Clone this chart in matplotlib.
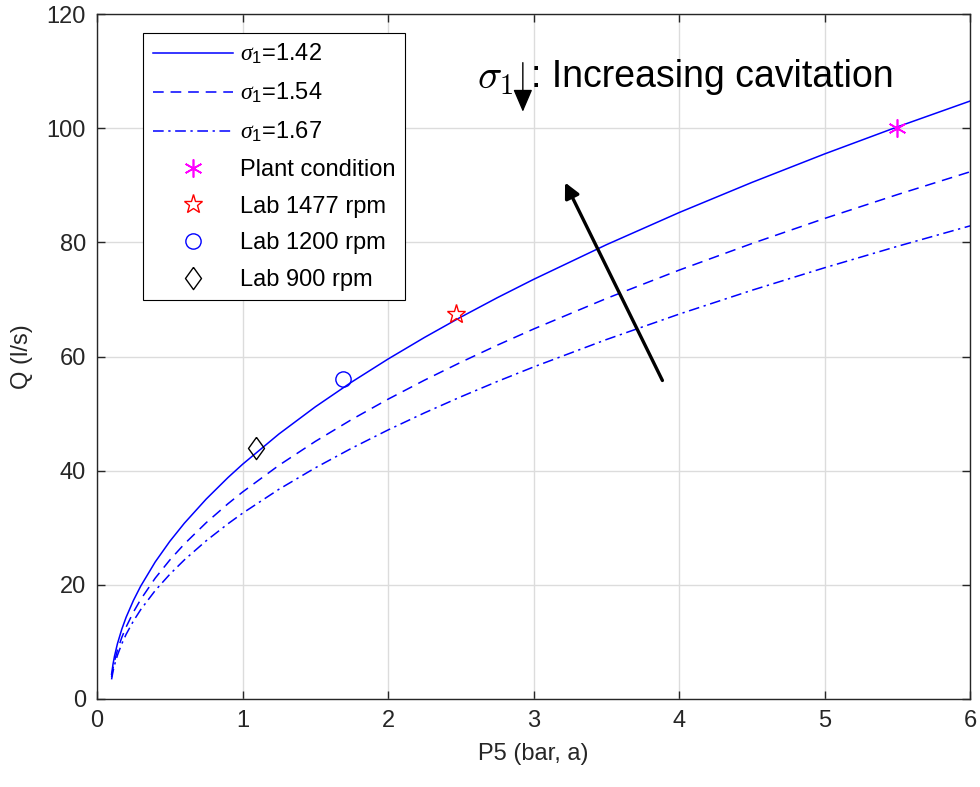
import numpy as np
import matplotlib
matplotlib.use('Agg')
import matplotlib.pyplot as plt

plt.rcParams['font.family'] = ['Liberation Sans', 'DejaVu Sans']
plt.rcParams['mathtext.fontset'] = 'custom'
plt.rcParams['mathtext.rm'] = 'Liberation Sans'
plt.rcParams['mathtext.it'] = 'Liberation Serif:italic'

# curves
p5 = [0.10, 0.11, 0.12, 0.14, 0.17, 0.20, 0.25, 0.30, 0.40, 0.50, 0.60, 0.75, 0.90,
      1.00, 1.25, 1.50, 1.75, 2.00, 2.25, 2.50, 2.75, 3.00, 3.50, 4.00, 4.50, 5.00,
      5.50, 6.00]
q_142 = [4.31, 6.09, 7.47, 9.64, 12.19, 14.30, 17.24, 19.75, 24.00, 27.60, 30.78, 35.01,
         38.79, 41.11, 46.42, 51.18, 55.53, 59.56, 63.34, 66.91, 70.30, 73.52, 79.59,
         85.23, 90.51, 95.51, 100.25, 104.78]
q_154 = [3.80, 5.37, 6.58, 8.50, 10.75, 12.60, 15.20, 17.42, 21.16, 24.33, 27.14, 30.87,
         34.20, 36.25, 40.93, 45.12, 48.96, 52.52, 55.85, 58.99, 61.98, 64.82, 70.17,
         75.14, 79.80, 84.20, 88.38, 92.38]
q_167 = [3.41, 4.82, 5.91, 7.62, 9.64, 11.31, 13.64, 15.63, 18.99, 21.83, 24.35, 27.70,
         30.69, 32.53, 36.73, 40.49, 43.93, 47.13, 50.12, 52.94, 55.62, 58.17, 62.97,
         67.43, 71.61, 75.56, 79.31, 82.90]

plant = (5.5, 100.0)
lab_1477 = (2.47, 67.5)
lab_1200 = (1.69, 56.0)
lab_900 = (1.09, 44.0)

fig = plt.figure(figsize=(9.8, 7.87), dpi=100)
ax = fig.add_axes([0.099, 0.112, 0.891, 0.870])

blue = '#0000FF'
ax.plot(p5, q_142, color=blue, lw=1.1, ls='-', label=r'$\sigma_1$=1.42')
ax.plot(p5, q_154, color=blue, lw=1.1, ls=(0, (7, 4.5)), label=r'$\sigma_1$=1.54')
ax.plot(p5, q_167, color=blue, lw=1.1, ls=(0, (7, 3, 1.5, 3)), label=r'$\sigma_1$=1.67')

diamond = [(0, 1), (0.72, 0), (0, -1), (-0.72, 0), (0, 1)]
ax.plot(*plant, ls='none', marker=(6, 2, 0), ms=13, mec='#FF00FF', mew=1.2, label='Plant condition')
ax.plot(*lab_1477, ls='none', marker='*', ms=14, mfc='none', mec='#FF0000', mew=1.0, label='Lab 1477 rpm')
ax.plot(*lab_1200, ls='none', marker='o', ms=11, mfc='none', mec=blue, mew=1.0, label='Lab 1200 rpm')
ax.plot(*lab_900, ls='none', marker=diamond, ms=16, mfc='none', mec='black', mew=1.0, label='Lab 900 rpm')

ax.annotate('', xy=(3.216, 90.5), xytext=(3.885, 55.8),
            arrowprops=dict(arrowstyle='-|>,head_length=0.9,head_width=0.45', color='black', lw=2.4,
                            shrinkA=0, shrinkB=0))

ax.text(2.61, 108.8, r'$\sigma_1$', fontsize=29, va='center', ha='left', math_fontfamily='cm')
ax.annotate('', xy=(2.926, 102.9), xytext=(2.926, 111.5),
            arrowprops=dict(arrowstyle='-|>,head_length=1.4,head_width=0.6', color='black', lw=1.0,
                            shrinkA=0, shrinkB=0))
ax.text(2.98, 109.0, ': Increasing cavitation', fontsize=27, va='center', ha='left')

ax.set_xlim(0, 6)
ax.set_ylim(0, 120)
ax.set_xticks(range(0, 7))
ax.set_yticks(range(0, 121, 20))
ax.grid(True, color='#DCDCDC', lw=1.0)
ax.set_axisbelow(True)
ax.tick_params(direction='in', length=6, width=1, top=True, right=True, labelsize=17,
               colors='#262626', pad=8)
for s in ax.spines.values():
    s.set_color('#262626')
    s.set_linewidth(1.0)

ax.set_xlabel('P5 (bar, a)', fontsize=17, color='#262626', labelpad=8)
ax.set_ylabel('Q (l/s)', fontsize=17, color='#262626', labelpad=10)

leg = ax.legend(loc='upper left', bbox_to_anchor=(0.053, 0.973), fontsize=17, frameon=True,
                fancybox=False, edgecolor='black', framealpha=1, handlelength=3.4,
                handletextpad=0.3, labelspacing=0.62, borderpad=0.4, borderaxespad=0)
leg.get_frame().set_linewidth(0.8)

fig.savefig('out.png', dpi=100)
